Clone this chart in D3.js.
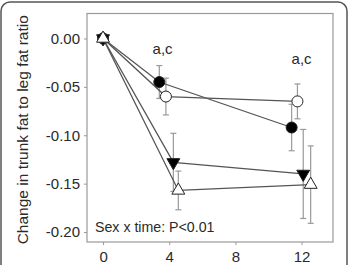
<!DOCTYPE html>
<html><head><meta charset="utf-8">
<script src="https://cdn.jsdelivr.net/npm/d3@7"></script>
<style>body{margin:0;background:#fff}svg{display:block}</style>
</head><body>
<script>
const weeks = [0, 4, 12];
const seriesNames = ["filledCircle", "openCircle", "filledDown", "openUp"];
const xOffsets = [[0, -0.6, -0.6], [0, -0.2, -0.25], [0, 0.25, 0.1], [0, 0.55, 0.55]];
const meanFilledCircle = [0, -0.045, -0.092];
const meanOpenCircle = [0, -0.060, -0.065];
const meanFilledDown = [0, -0.128, -0.140];
const meanOpenUp = [0, -0.157, -0.151];
const errFilledCircle = [0, 0.017, 0.024];
const errOpenCircle = [0, 0.019, 0.018];
const errFilledDown = [0, 0.030, 0.046];
const errOpenUp = [0, 0.020, 0.040];
const yTicks = [0, -0.05, -0.10, -0.15, -0.20];
const xTicks = [0, 4, 8, 12];
const annotations = [{x: 3.6, y: -0.0165, t: "a,c"}, {x: 12.0, y: -0.0268, t: "a,c"}];

const means = [meanFilledCircle, meanOpenCircle, meanFilledDown, meanOpenUp];
const errs = [errFilledCircle, errOpenCircle, errFilledDown, errOpenUp];

const W = 351, H = 265;
const svg = d3.select("body").append("svg").attr("width", W).attr("height", H);
svg.append("rect").attr("x", 1).attr("y", 2).attr("width", 346).attr("height", 290)
  .attr("rx", 9).attr("fill", "none").attr("stroke", "#555").attr("stroke-width", 1.5);

const L = 87, R = 333, T = 13.5, B = 242;
const x = d3.scaleLinear().domain([-0.97, 13.9]).range([L, R]);
const y = d3.scaleLinear().domain([0.0258, -0.2103]).range([T, B]);
const gray = "#999";
const font = "Liberation Sans, Arial, sans-serif";
const txt = "#2a2a2a";

svg.append("rect").attr("x", L).attr("y", T).attr("width", R - L).attr("height", B - T)
  .attr("fill", "none").attr("stroke", gray).attr("stroke-width", 1.2);

const ya = svg.append("g").attr("transform", `translate(${L},0)`)
  .call(d3.axisLeft(y).tickValues(yTicks).tickFormat(d3.format(".2f")).tickSize(3).tickPadding(4));
ya.select(".domain").remove();
ya.selectAll("line").attr("stroke", gray);
ya.selectAll("text").attr("font-family", font).attr("font-size", 15).attr("fill", txt)
  .text(d => d === 0 ? "0.00" : d3.format(".2f")(d).replace("−", "-"));

const xa = svg.append("g").attr("transform", `translate(0,${B})`)
  .call(d3.axisBottom(x).tickValues(xTicks).tickSize(3).tickPadding(6));
xa.select(".domain").remove();
xa.selectAll("line").attr("stroke", gray);
xa.selectAll("text").attr("font-family", font).attr("font-size", 15).attr("fill", txt);

svg.append("text").attr("transform", `translate(28,${(T + B) / 2 + 2}) rotate(-90)`)
  .attr("text-anchor", "middle").attr("font-family", font).attr("font-size", 15.5).attr("fill", txt)
  .text("Change in trunk fat to leg fat ratio");

const line = d3.line().x(d => x(d[0])).y(d => y(d[1]));
means.forEach((m, s) => {
  m.forEach((v, i) => {
    if (errs[s][i] === 0) return;
    const xx = x(weeks[i] + xOffsets[s][i]);
    const g = svg.append("g").attr("stroke", gray).attr("stroke-width", 1.2);
    g.append("line").attr("x1", xx).attr("x2", xx).attr("y1", y(v - errs[s][i])).attr("y2", y(v + errs[s][i]));
    [v - errs[s][i], v + errs[s][i]].forEach(e =>
      g.append("line").attr("x1", xx - 3).attr("x2", xx + 3).attr("y1", y(e)).attr("y2", y(e)));
  });
});
means.forEach((m, s) => {
  const pts = m.map((v, i) => [weeks[i] + xOffsets[s][i], v]);
  svg.append("path").attr("d", line(pts)).attr("fill", "none").attr("stroke", "#555").attr("stroke-width", 1.3);
});
const tri = d3.symbol().type(d3.symbolTriangle).size(72);
means.forEach((m, s) => {
  m.forEach((v, i) => {
    const xx = x(weeks[i] + xOffsets[s][i]), yy = y(v);
    let el;
    if (s < 2) {
      el = svg.append("circle").attr("cx", xx).attr("cy", yy).attr("r", 5.5);
    } else {
      el = svg.append("path").attr("d", tri())
        .attr("transform", `translate(${xx},${yy})` + (s === 2 ? " rotate(180)" : ""));
    }
    el.attr("fill", (s === 0 || s === 2) ? "#000" : "#fff").attr("stroke", "#222").attr("stroke-width", 1);
  });
});
annotations.forEach(a => {
  svg.append("text").attr("x", x(a.x)).attr("y", y(a.y)).attr("text-anchor", "middle")
    .attr("font-family", font).attr("font-size", 15).attr("fill", txt).text(a.t);
});
svg.append("text").attr("x", 95).attr("y", 232).attr("font-family", font).attr("font-size", 14.2)
  .attr("fill", txt).text("Sex x time: P<0.01");
</script>
</body></html>
